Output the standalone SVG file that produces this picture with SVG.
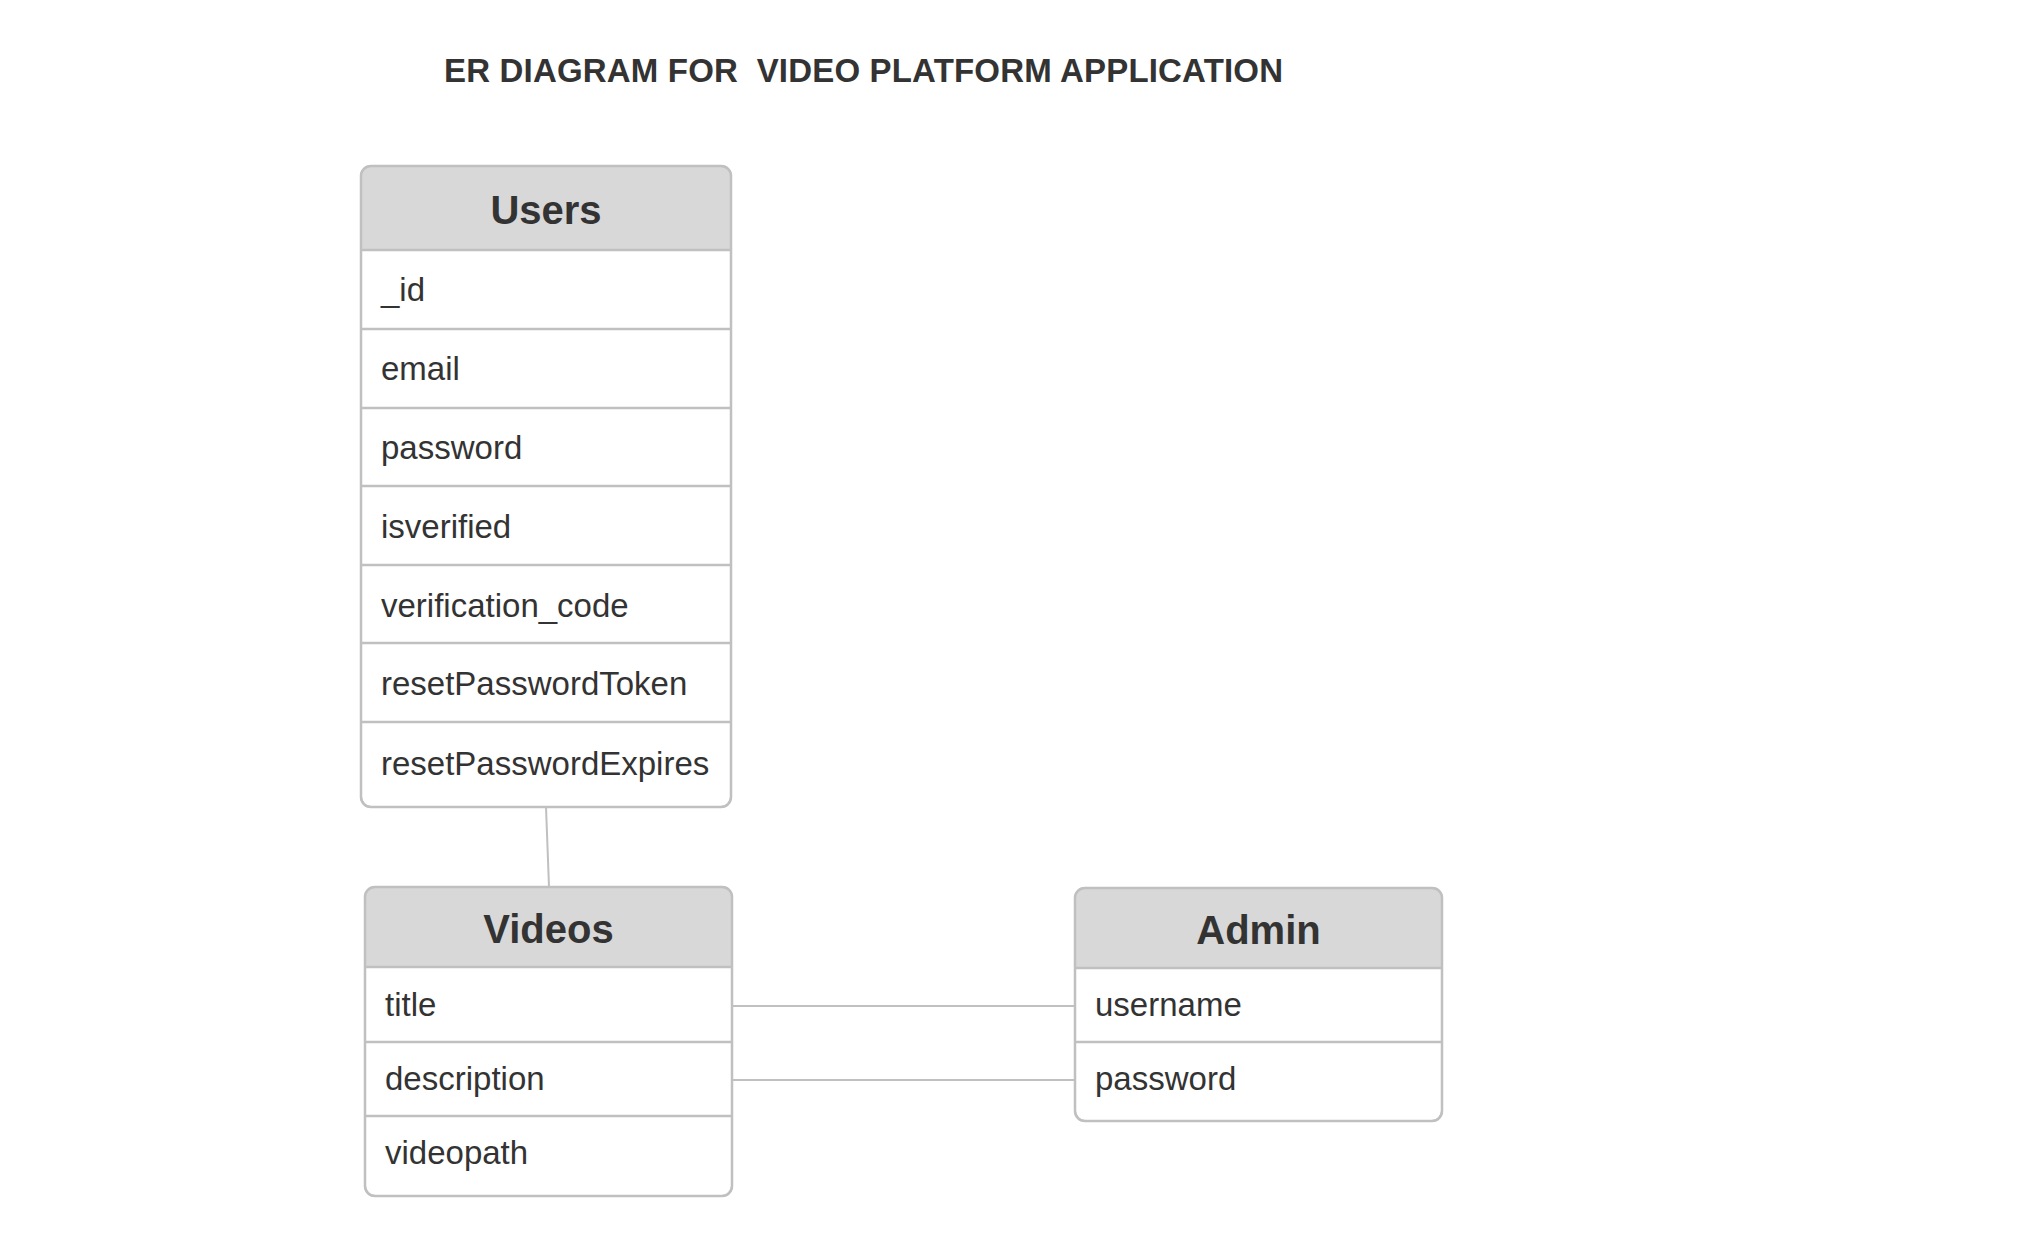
<svg xmlns="http://www.w3.org/2000/svg" width="2025" height="1252" viewBox="0 0 2025 1252">
<style>
  text { font-family: "Liberation Sans", Arial, sans-serif; fill: #333333; }
  .title { font-size: 33px; font-weight: bold; white-space: pre; }
  .hdr { font-size: 40px; font-weight: bold; text-anchor: middle; }
  .attr { font-size: 33px; }
  .box { fill: #ffffff; stroke: #c0c0c0; stroke-width: 2; }
  .outline { fill: none; stroke: #c0c0c0; stroke-width: 2.5; }
  .head { fill: #d8d8d8; stroke: none; }
  .sep { stroke: #c0c0c0; stroke-width: 2.5; }
  .conn { stroke: #c0c0c0; stroke-width: 2; fill: none; }
</style>
<rect width="2025" height="1252" fill="#ffffff"/>
<text class="title" x="444" y="82" textLength="839" lengthAdjust="spacing" xml:space="preserve">ER DIAGRAM FOR  VIDEO PLATFORM APPLICATION</text>

<g id="connectors">
  <line class="conn" x1="546" y1="807" x2="549" y2="887"/>
  <line class="conn" x1="732" y1="1006" x2="1075" y2="1006"/>
  <line class="conn" x1="732" y1="1080" x2="1075" y2="1080"/>
</g>

<g id="users">
  <rect class="box" x="361" y="166" width="370" height="641" rx="10"/>
  <path class="head" d="M361,250 V176 A10,10 0 0 1 371,166 H721 A10,10 0 0 1 731,176 V250 Z"/>
  <line class="sep" x1="361" y1="250" x2="731" y2="250"/>
  <line class="sep" x1="361" y1="329" x2="731" y2="329"/>
  <line class="sep" x1="361" y1="408" x2="731" y2="408"/>
  <line class="sep" x1="361" y1="486" x2="731" y2="486"/>
  <line class="sep" x1="361" y1="565" x2="731" y2="565"/>
  <line class="sep" x1="361" y1="643" x2="731" y2="643"/>
  <line class="sep" x1="361" y1="722" x2="731" y2="722"/>
  <rect class="outline" x="361" y="166" width="370" height="641" rx="10"/>
  <text class="hdr" x="546" y="224">Users</text>
  <text class="attr" x="381" y="301">_id</text>
  <text class="attr" x="381" y="380">email</text>
  <text class="attr" x="381" y="459">password</text>
  <text class="attr" x="381" y="538">isverified</text>
  <text class="attr" x="381" y="617">verification_code</text>
  <text class="attr" x="381" y="695">resetPasswordToken</text>
  <text class="attr" x="381" y="775">resetPasswordExpires</text>
</g>

<g id="videos">
  <rect class="box" x="365" y="887" width="367" height="309" rx="10"/>
  <path class="head" d="M365,967 V897 A10,10 0 0 1 375,887 H722 A10,10 0 0 1 732,897 V967 Z"/>
  <line class="sep" x1="365" y1="967" x2="732" y2="967"/>
  <line class="sep" x1="365" y1="1042" x2="732" y2="1042"/>
  <line class="sep" x1="365" y1="1116" x2="732" y2="1116"/>
  <rect class="outline" x="365" y="887" width="367" height="309" rx="10"/>
  <text class="hdr" x="548.5" y="943">Videos</text>
  <text class="attr" x="385" y="1016">title</text>
  <text class="attr" x="385" y="1090">description</text>
  <text class="attr" x="385" y="1164">videopath</text>
</g>

<g id="admin">
  <rect class="box" x="1075" y="888" width="367" height="233" rx="10"/>
  <path class="head" d="M1075,968 V898 A10,10 0 0 1 1085,888 H1432 A10,10 0 0 1 1442,898 V968 Z"/>
  <line class="sep" x1="1075" y1="968" x2="1442" y2="968"/>
  <line class="sep" x1="1075" y1="1042" x2="1442" y2="1042"/>
  <rect class="outline" x="1075" y="888" width="367" height="233" rx="10"/>
  <text class="hdr" x="1258.5" y="944">Admin</text>
  <text class="attr" x="1095" y="1016">username</text>
  <text class="attr" x="1095" y="1090">password</text>
</g>
</svg>
